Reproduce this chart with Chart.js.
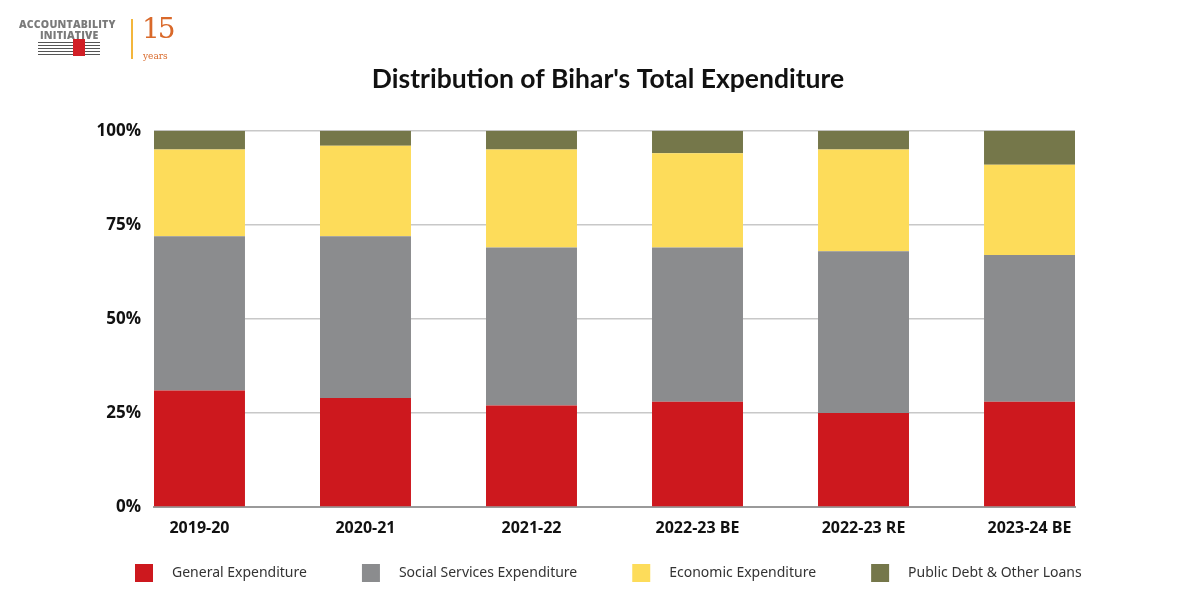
<!DOCTYPE html>
<html>
<head>
<meta charset="utf-8">
<script src="https://cdn.jsdelivr.net/npm/chart.js@4.4.0/dist/chart.umd.min.js"></script>
<style>
  body { margin: 0; background: #fff; }
  #wrap { position: relative; width: 1200px; height: 600px; }
  #logo { position: absolute; left: 0; top: 0; width: 200px; height: 70px; font-family: "Open Sans", sans-serif; }
  .lg1 { position: absolute; left: 19px; top: 17px; font-size: 10.5px; font-weight: 800; color: #7a7a7a; letter-spacing: 0.2px; }
  .lg2 { position: absolute; left: 40px; top: 28px; font-size: 10.5px; font-weight: 800; color: #7a7a7a; letter-spacing: 0.2px; }
  .book { position: absolute; left: 38px; top: 42px; width: 62px; height: 13px;
          background: repeating-linear-gradient(180deg, #555 0 1px, #fff 1px 3px); }
  .book span { position: absolute; left: 35px; top: -3px; width: 12px; height: 17px; background: #d11f26; }
  .bar { position: absolute; left: 131px; top: 19px; width: 2px; height: 40px; background: #f3b63c; }
  .n15 { position: absolute; left: 142px; top: 12px; font-family: "DejaVu Serif", serif; font-size: 28px; color: #d9692a; letter-spacing: -2px; }
  .yrs { position: absolute; left: 143px; top: 51px; font-family: "DejaVu Serif", serif; font-size: 9px; color: #d9692a; }
</style>
</head>
<body>
<div id="wrap">
  <canvas id="myChart" width="1200" height="600"></canvas>
  <div id="logo">
    <div class="lg1">ACCOUNTABILITY</div>
    <div class="lg2">INITIATIVE</div>
    <div class="book"><span></span></div>
    <div class="bar"></div>
    <div class="n15">15</div>
    <div class="yrs">years</div>
  </div>
</div>
<script>
const years = ['2019-20', '2020-21', '2021-22', '2022-23 BE', '2022-23 RE', '2023-24 BE'];
const general = [31, 29, 27, 28, 25, 28];
const social = [41, 43, 42, 41, 43, 39];
const economic = [23, 24, 26, 25, 27, 24];
const publicDebt = [5, 4, 5, 6, 5, 9];
const yTicks = [0, 25, 50, 75, 100];

const colors = ['#cd181e', '#8b8c8e', '#fddc5a', '#75774a'];

const toPoints = arr => arr.map((v, i) => ({x: i, y: v}));

// legend swatch: empty gap on the left, then the square
const LEG_GAP = 45;
const swatch = color => {
  const c = document.createElement('canvas');
  c.width = LEG_GAP + 30;
  c.height = 18;
  const g = c.getContext('2d');
  g.fillStyle = color;
  g.fillRect(LEG_GAP, 0, 18, 18);
  return c;
};
const swatches = colors.map(swatch);

const ctx = document.getElementById('myChart').getContext('2d');
const data = {
  datasets: [
    {label: 'General Expenditure', data: toPoints(general), backgroundColor: colors[0]},
    {label: 'Social Services Expenditure', data: toPoints(social), backgroundColor: colors[1]},
    {label: 'Economic Expenditure', data: toPoints(economic), backgroundColor: colors[2]},
    {label: 'Public Debt & Other Loans', data: toPoints(publicDebt), backgroundColor: colors[3]}
  ]
};

const config = {
  type: 'bar',
  data: data,
  options: {
    responsive: false,
    animation: false,
    layout: {padding: {left: 80, right: 64, top: 0, bottom: 10}},
    datasets: {bar: {barPercentage: 0.548, categoryPercentage: 1}},
    plugins: {
      title: {
        display: true,
        text: "Distribution of Bihar's Total Expenditure",
        color: '#111',
        font: {family: 'Lato', size: 26.5, weight: 'bold'},
        padding: {top: 64, bottom: 35}
      },
      legend: {
        position: 'bottom',
        align: 'start',
        labels: {
          color: '#333',
          font: {family: 'Noto Sans', size: 14},
          usePointStyle: true,
          pointStyleWidth: LEG_GAP + 30,
          padding: 10,
          generateLabels: chart => Chart.defaults.plugins.legend.labels.generateLabels(chart)
            .map((item, i) => Object.assign(item, {pointStyle: swatches[i]}))
        }
      },
      tooltip: {enabled: false}
    },
    scales: {
      x: {
        type: 'linear',
        stacked: true,
        offset: false,
        min: -0.274,
        max: 5.274,
        afterBuildTicks: scale => { scale.ticks = years.map((_, i) => ({value: i})); },
        afterFit: scale => { scale.height = 49; },
        grid: {display: false},
        border: {display: true, color: '#9a9a9a', width: 2},
        ticks: {
          callback: v => years[v],
          color: '#111',
          font: {family: 'Open Sans', size: 16, weight: 'bold'},
          padding: 4,
          maxRotation: 0,
          autoSkip: false
        }
      },
      y: {
        stacked: true,
        min: 0,
        max: 100,
        afterBuildTicks: scale => { scale.ticks = yTicks.map(v => ({value: v})); },
        afterFit: scale => { scale.width = 74; },
        grid: {color: '#c8c8c8', lineWidth: 1.5, drawTicks: false},
        border: {display: false},
        ticks: {
          callback: v => v + '%',
          color: '#111',
          font: {family: 'Open Sans', size: 17, weight: 'bold'},
          padding: 13
        }
      },
      y2: {
        position: 'right',
        min: 0,
        max: 100,
        afterFit: scale => { scale.width = 61; },
        grid: {display: false},
        border: {display: false},
        ticks: {display: false}
      }
    }
  }
};

const myChart = new Chart(ctx, config);
</script>
</body>
</html>
